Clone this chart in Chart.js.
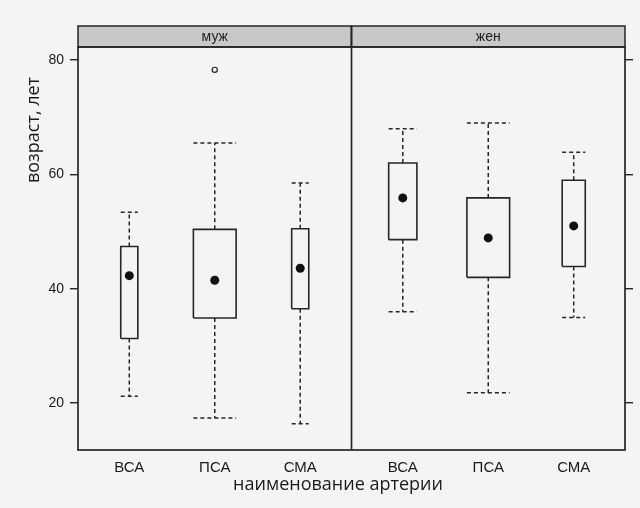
<!DOCTYPE html>
<html>
<head>
<meta charset="utf-8">
<script src="https://cdn.jsdelivr.net/npm/chart.js@4.4.1/dist/chart.umd.min.js"></script>
<style>
  html, body { margin: 0; padding: 0; background: #f4f4f4; }
  #wrap { width: 640px; height: 508px; position: relative; }
</style>
</head>
<body>
<div id="wrap"><canvas id="c" width="640" height="508"></canvas></div>
<script>
// Age by artery, split by sex (box-and-whisker summaries)
const categories = ['ВСА', 'ПСА', 'СМА'];
const panels = ['муж', 'жен'];

// male panel
const maleLow    = [21.2, 17.4, 16.4];
const maleQ1     = [31.3, 34.9, 36.5];
const maleMedian = [42.3, 41.5, 43.6];
const maleQ3     = [47.4, 50.4, 50.5];
const maleHigh   = [53.4, 65.5, 58.5];
const maleOutliers = [[], [78.3], []];

// female panel
const femaleLow    = [36.0, 21.8, 35.0];
const femaleQ1     = [48.6, 42.0, 43.9];
const femaleMedian = [55.9, 48.9, 51.0];
const femaleQ3     = [62.0, 55.9, 59.0];
const femaleHigh   = [68.0, 69.0, 63.9];
const femaleOutliers = [[], [], []];

const yTicks = [20, 40, 60, 80];

// layout: each panel spans 3.2 x-units, boxes sit at 1, 2, 3 inside it
const PANEL_SPAN = 3.2;
const X_START = 0.4;
const boxWidths = [[0.2, 0.5, 0.2], [0.33, 0.5, 0.27]];

const INK = '#262626';
const groups = [
  { low: maleLow, q1: maleQ1, med: maleMedian, q3: maleQ3, high: maleHigh, out: maleOutliers },
  { low: femaleLow, q1: femaleQ1, med: femaleMedian, q3: femaleQ3, high: femaleHigh, out: femaleOutliers }
];

const datasets = [];
const tickPos = [];
const tickText = {};
const medianPts = [];
const outlierPts = [];

function seg(points, dashed) {
  datasets.push({
    data: points,
    showLine: true,
    borderColor: INK,
    borderWidth: dashed ? 1.5 : 1.6,
    borderDash: dashed ? [4, 3] : [],
    pointRadius: 0,
    fill: false,
    tension: 0
  });
}

groups.forEach((g, p) => {
  categories.forEach((cat, i) => {
    const cx = X_START + p * PANEL_SPAN + 0.6 + i;
    const hw = boxWidths[p][i] / 2;
    tickPos.push(cx);
    tickText[cx.toFixed(2)] = cat;
    // box
    seg([
      { x: cx - hw, y: g.q1[i] }, { x: cx + hw, y: g.q1[i] },
      { x: cx + hw, y: g.q3[i] }, { x: cx - hw, y: g.q3[i] },
      { x: cx - hw, y: g.q1[i] }
    ], false);
    // whiskers
    seg([{ x: cx, y: g.q3[i] }, { x: cx, y: g.high[i] }], true);
    seg([{ x: cx, y: g.q1[i] }, { x: cx, y: g.low[i] }], true);
    // caps
    seg([{ x: cx - hw, y: g.high[i] }, { x: cx + hw, y: g.high[i] }], true);
    seg([{ x: cx - hw, y: g.low[i] }, { x: cx + hw, y: g.low[i] }], true);
    medianPts.push({ x: cx, y: g.med[i] });
    g.out[i].forEach(v => outlierPts.push({ x: cx, y: v }));
  });
});

datasets.push({
  data: medianPts, showLine: false, pointRadius: 4.5, pointBackgroundColor: '#111',
  pointBorderColor: '#111', pointBorderWidth: 0
});
datasets.push({
  data: outlierPts, showLine: false, pointRadius: 2.6, pointBackgroundColor: 'rgba(0,0,0,0)',
  pointBorderColor: INK, pointBorderWidth: 1.2
});

const Y_MIN = 11.8, Y_MAX = 82.3;
const X_MIN = X_START, X_MAX = X_START + 2 * PANEL_SPAN;

const framePlugin = {
  id: 'frame',
  beforeDraw(chart) {
    const ctx = chart.ctx;
    ctx.save();
    ctx.fillStyle = '#f4f4f4';
    ctx.fillRect(0, 0, chart.width, chart.height);
    ctx.restore();
  },
  afterDraw(chart) {
    const { ctx, chartArea: a, scales } = chart;
    const xs = scales.x;
    const divX = xs.getPixelForValue(X_START + PANEL_SPAN);
    const stripTop = a.top - 21;
    ctx.save();
    // strips
    const edges = [a.left, divX, a.right];
    for (let p = 0; p < 2; p++) {
      ctx.fillStyle = '#c8c8c8';
      ctx.fillRect(edges[p], stripTop, edges[p + 1] - edges[p], a.top - stripTop);
      ctx.strokeStyle = INK;
      ctx.lineWidth = 1.5;
      ctx.strokeRect(edges[p], stripTop, edges[p + 1] - edges[p], a.top - stripTop);
      ctx.fillStyle = '#1e1e1e';
      ctx.font = "14px 'Liberation Sans Narrow', 'Liberation Sans', sans-serif";
      ctx.textAlign = 'center';
      ctx.textBaseline = 'middle';
      ctx.fillText(panels[p], (edges[p] + edges[p + 1]) / 2, (stripTop + a.top) / 2 + 1);
    }
    // panel frame
    ctx.lineWidth = 1.7;
    ctx.strokeStyle = INK;
    ctx.strokeRect(a.left, a.top, a.right - a.left, a.bottom - a.top);
    ctx.beginPath();
    ctx.moveTo(divX, stripTop);
    ctx.lineTo(divX, a.bottom);
    ctx.stroke();
    // axis titles
    ctx.fillStyle = '#1a1a1a';
    ctx.font = "18px 'Open Sans', 'Noto Sans', sans-serif";
    ctx.textAlign = 'center';
    ctx.textBaseline = 'middle';
    ctx.fillText('наименование артерии', 338, 485);
    ctx.translate(34, 130);
    ctx.rotate(-Math.PI / 2);
    ctx.fillText('возраст, лет', 0, 0);
    ctx.restore();
  }
};

new Chart(document.getElementById('c'), {
  type: 'scatter',
  data: { datasets },
  plugins: [framePlugin],
  options: {
    responsive: false,
    animation: false,
    events: [],
    layout: { padding: { top: 47, left: 0, right: 0, bottom: 0 } },
    plugins: { legend: { display: false }, tooltip: { enabled: false }, title: { display: false } },
    scales: {
      x: {
        type: 'linear', min: X_MIN, max: X_MAX,
        afterBuildTicks: s => { s.ticks = tickPos.map(v => ({ value: v })); },
        afterFit: s => { s.height = 58; },
        grid: { display: true, drawOnChartArea: false, drawTicks: false },
        border: { display: false },
        ticks: {
          padding: 9, autoSkip: false, maxRotation: 0,
          color: '#1a1a1a',
          font: { family: "'Liberation Sans Narrow', 'Liberation Sans', sans-serif", size: 15 },
          callback: v => tickText[Number(v).toFixed(2)] || ''
        }
      },
      y: {
        type: 'linear', position: 'left', min: Y_MIN, max: Y_MAX,
        afterBuildTicks: s => { s.ticks = yTicks.map(v => ({ value: v })); },
        afterFit: s => { s.width = 78; },
        grid: { display: true, drawOnChartArea: false, drawTicks: true, tickLength: 8, color: INK, lineWidth: 1.4 },
        border: { display: false },
        ticks: {
          padding: 6, color: '#1a1a1a',
          font: { family: "'Liberation Sans Narrow', 'Liberation Sans', sans-serif", size: 14 }
        }
      },
      y2: {
        type: 'linear', position: 'right', min: Y_MIN, max: Y_MAX,
        afterBuildTicks: s => { s.ticks = yTicks.map(v => ({ value: v })); },
        afterFit: s => { s.width = 15; },
        grid: { display: true, drawOnChartArea: false, drawTicks: true, tickLength: 8, color: INK, lineWidth: 1.4 },
        border: { display: false },
        ticks: { padding: 0, callback: () => '' }
      }
    }
  }
});
</script>
</body>
</html>
